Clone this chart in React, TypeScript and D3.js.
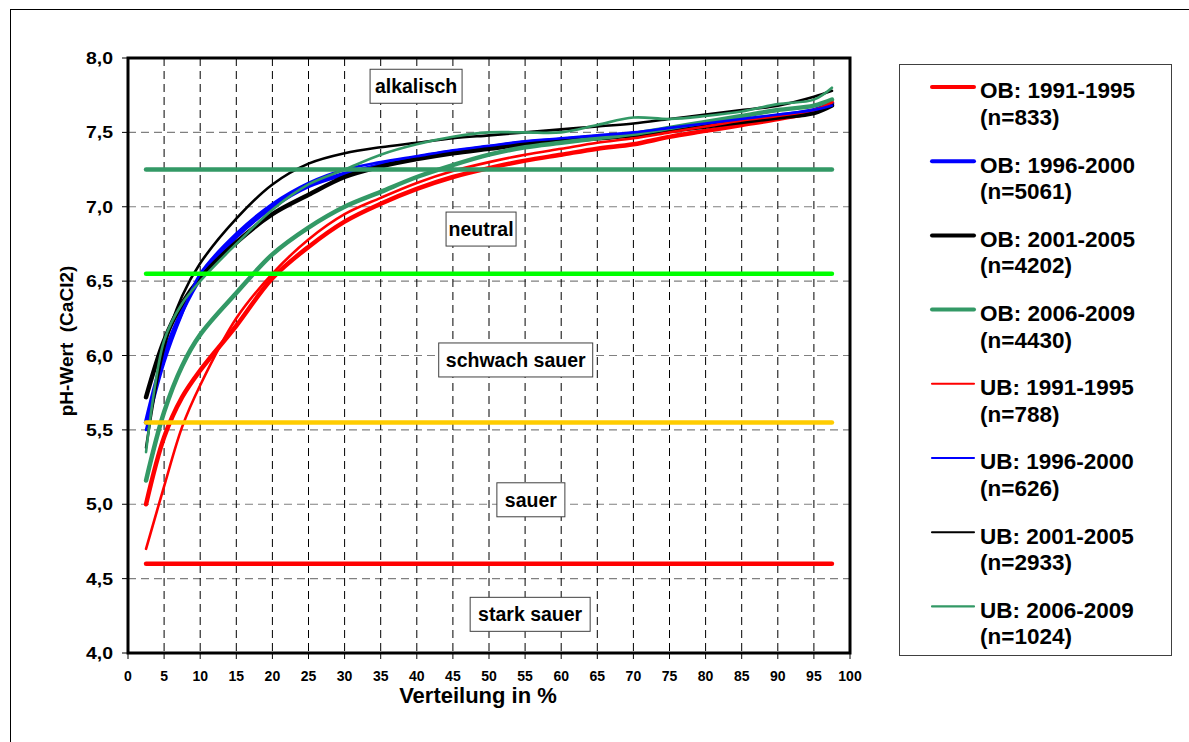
import React from "react";
import * as d3 from "d3";

// Percentile positions (Verteilung in %)
const pct = [2.5, 5, 7.5, 10, 15, 20, 25, 30, 35, 40, 45, 50, 55, 60, 65, 70, 75, 80, 85, 90, 95, 97.5];

// pH (CaCl2) at each percentile – Oberboden (OB)
const obRed91 = [5.0, 5.45, 5.72, 5.9, 6.2, 6.52, 6.73, 6.9, 7.02, 7.12, 7.2, 7.26, 7.31, 7.35, 7.39, 7.42, 7.47, 7.51, 7.55, 7.59, 7.64, 7.7];
const obBlue96 = [5.55, 6.0, 6.3, 6.52, 6.8, 7.0, 7.14, 7.22, 7.28, 7.33, 7.37, 7.4, 7.43, 7.45, 7.47, 7.49, 7.52, 7.55, 7.58, 7.61, 7.65, 7.69];
const obBlack01 = [5.72, 6.1, 6.35, 6.52, 6.76, 6.95, 7.08, 7.2, 7.27, 7.32, 7.36, 7.39, 7.42, 7.44, 7.46, 7.48, 7.51, 7.54, 7.57, 7.6, 7.63, 7.68];
const obGreen06 = [5.16, 5.62, 5.93, 6.14, 6.42, 6.68, 6.86, 7.0, 7.1, 7.2, 7.28, 7.35, 7.4, 7.43, 7.46, 7.49, 7.53, 7.57, 7.61, 7.65, 7.68, 7.72];

// pH (CaCl2) at each percentile – Unterboden (UB)
const ubRed91 = [4.7, 5.12, 5.52, 5.8, 6.25, 6.55, 6.78, 6.95, 7.06, 7.16, 7.24, 7.3, 7.35, 7.39, 7.43, 7.46, 7.5, 7.54, 7.58, 7.61, 7.65, 7.7];
const ubBlue96 = [5.5, 5.95, 6.28, 6.55, 6.82, 7.02, 7.16, 7.25, 7.3, 7.34, 7.38, 7.41, 7.44, 7.46, 7.48, 7.5, 7.53, 7.56, 7.59, 7.62, 7.65, 7.68];
const ubBlack01 = [5.38, 6.05, 6.4, 6.62, 6.92, 7.15, 7.29, 7.36, 7.4, 7.43, 7.46, 7.48, 7.5, 7.52, 7.54, 7.56, 7.59, 7.62, 7.65, 7.68, 7.74, 7.78];
const ubGreen06 = [5.35, 6.1, 6.35, 6.5, 6.75, 6.98, 7.15, 7.25, 7.35, 7.42, 7.47, 7.5, 7.5, 7.5, 7.55, 7.6, 7.59, 7.61, 7.64, 7.69, 7.72, 7.8];

const seriesNames = [
  ["OB: 1991-1995", "(n=833)"],
  ["OB: 1996-2000", "(n=5061)"],
  ["OB: 2001-2005", "(n=4202)"],
  ["OB: 2006-2009", "(n=4430)"],
  ["UB: 1991-1995", "(n=788)"],
  ["UB: 1996-2000", "(n=626)"],
  ["UB: 2001-2005", "(n=2933)"],
  ["UB: 2006-2009", "(n=1024)"],
];
const seriesValues = [obRed91, obBlue96, obBlack01, obGreen06, ubRed91, ubBlue96, ubBlack01, ubGreen06];
const seriesColors = ["#ff0000", "#0000ff", "#000000", "#339966", "#ff0000", "#0000ff", "#000000", "#339966"];
const seriesWidths = [4.5, 4.5, 4.5, 4.5, 2.6, 2.6, 2.6, 2.6];

// Class boundaries (pH)
const boundaryValues = [7.25, 6.55, 5.55, 4.6];
const boundaryColors = ["#339966", "#00ff00", "#ffcc00", "#ff0000"];

// Class labels, placed at (percent, pH) of their centre
const classLabels = ["alkalisch", "neutral", "schwach sauer", "sauer", "stark sauer"];
const classPct = [39.9, 48.9, 53.7, 55.8, 55.7];
const classPh = [7.81, 6.85, 5.97, 5.03, 4.26];
const classBoxW = [92, 70, 154, 68, 120];

const xTicks = d3.range(0, 101, 5);
const yTicks = d3.range(4, 8.01, 0.5);

const W = 1189;
const H = 742;
const plot = { left: 128, right: 850, top: 58, bottom: 653 };

export default function App() {
  const x = d3.scaleLinear().domain([0, 100]).range([plot.left, plot.right]);
  const y = d3.scaleLinear().domain([4, 8]).range([plot.bottom, plot.top]);
  const line = d3
    .line<number>()
    .x((_, i) => x(pct[i]))
    .y((v) => y(v))
    .curve(d3.curveCatmullRom.alpha(0.5));

  const font = "'Liberation Sans', Arial, Helvetica, sans-serif";
  const fmt = (v: number) => v.toFixed(1).replace(".", ",");

  return (
    <svg
      width={W}
      height={H}
      style={{ position: "absolute", left: 0, top: 0, display: "block", background: "#fff" }}
      fontFamily={font}
      fontWeight="bold"
    >
      {/* outer frame */}
      <rect x={10.5} y={9.5} width={1300} height={900} fill="none" stroke="#000" strokeWidth={1} />

      {/* grid */}
      {yTicks
        .filter((t) => t > 4 && t < 8)
        .map((t) => (
          <line key={"gy" + t} x1={plot.left} x2={plot.right} y1={y(t)} y2={y(t)} stroke="#808080" strokeWidth={1.2} strokeDasharray="8,5" />
        ))}
      {xTicks
        .filter((t) => t > 0 && t < 100)
        .map((t) => (
          <line key={"gx" + t} x1={x(t)} x2={x(t)} y1={plot.top} y2={plot.bottom} stroke="#000" strokeWidth={1} strokeDasharray="8,5" />
        ))}

      {/* series */}
      {seriesValues.map((vals, i) => (
        <path key={"s" + i} d={line(vals) || ""} fill="none" stroke={seriesColors[i]} strokeWidth={seriesWidths[i]} strokeLinecap="round" strokeLinejoin="round" />
      ))}

      {/* class boundaries */}
      {boundaryValues.map((v, i) => (
        <line key={"b" + i} x1={x(pct[0])} x2={x(pct[pct.length - 1])} y1={y(v)} y2={y(v)} stroke={boundaryColors[i]} strokeWidth={4.5} strokeLinecap="round" />
      ))}

      {/* class labels */}
      {classLabels.map((t, i) => {
        const cx = x(classPct[i]);
        const cy = y(classPh[i]);
        const bw = classBoxW[i];
        return (
          <g key={"c" + i}>
            <rect x={cx - bw / 2} y={cy - 17} width={bw} height={34} fill="#fff" stroke="#404040" strokeWidth={1} />
            <text x={cx} y={cy + 7} textAnchor="middle" fontSize={19.5} fill="#000">
              {t}
            </text>
          </g>
        );
      })}

      {/* plot frame */}
      <rect x={plot.left} y={plot.top} width={plot.right - plot.left} height={plot.bottom - plot.top} fill="none" stroke="#000" strokeWidth={3} />

      {/* y axis */}
      {yTicks.map((t) => (
        <g key={"ty" + t}>
          <line x1={plot.left - 6} x2={plot.left} y1={y(t)} y2={y(t)} stroke="#000" strokeWidth={1} />
          <text x={113} y={y(t) + 6} textAnchor="end" fontSize={16} textLength={27} lengthAdjust="spacingAndGlyphs" fill="#000">
            {fmt(t)}
          </text>
        </g>
      ))}
      <text transform={`translate(73,341) rotate(-90)`} textAnchor="middle" fontSize={19} fill="#000">
        pH-Wert&#160;&#160;(CaCl2)
      </text>

      {/* x axis */}
      {xTicks.map((t) => (
        <g key={"tx" + t}>
          <line x1={x(t)} x2={x(t)} y1={plot.bottom} y2={plot.bottom + 6} stroke="#000" strokeWidth={1} />
          <text x={x(t)} y={681} textAnchor="middle" fontSize={14} fill="#000">
            {t}
          </text>
        </g>
      ))}
      <text x={478} y={703} textAnchor="middle" fontSize={22} fill="#000">
        Verteilung in %
      </text>

      {/* legend */}
      <rect x={899.5} y={64.5} width={272} height={591} fill="#fff" stroke="#404040" strokeWidth={1} />
      {seriesNames.map((nm, i) => {
        const ly = 87 + i * 74.2;
        return (
          <g key={"l" + i}>
            <line x1={932} x2={974} y1={ly} y2={ly} stroke={seriesColors[i]} strokeWidth={seriesWidths[i] - 0.5} strokeLinecap="round" />
            <text x={980} y={ly + 11.3} fontSize={22.5} fill="#000">
              {nm[0]}
            </text>
            <text x={980} y={ly + 38} fontSize={22.5} fill="#000">
              {nm[1]}
            </text>
          </g>
        );
      })}
    </svg>
  );
}
